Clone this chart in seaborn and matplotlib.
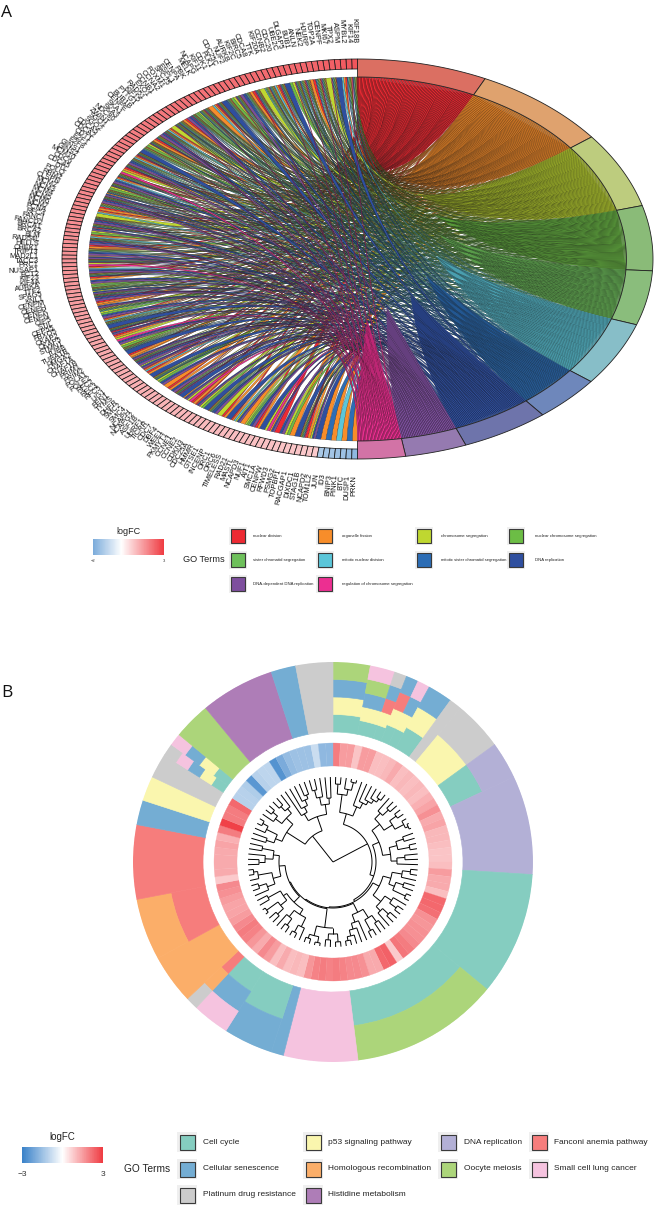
import numpy as np
import matplotlib
matplotlib.use("Agg")
import matplotlib.pyplot as plt
from matplotlib.colors import LinearSegmentedColormap
from matplotlib.path import Path
from matplotlib.patches import PathPatch, Rectangle
from matplotlib.collections import PatchCollection
import seaborn as sns

# ---------------- panel A data ----------------
go_terms_a = ["nuclear division", "organelle fission", "chromosome segregation",
              "nuclear chromosome segregation", "sister chromatid segregation",
              "mitotic nuclear division", "mitotic sister chromatid segregation",
              "DNA replication", "DNA-dependent DNA replication",
              "regulation of chromosome segregation"]
term_keys_a = "abcdefghij"
term_share_a = [25.6, 26.8, 22.1, 18.9, 15.8, 18.6, 13.4, 17.3, 12.1, 9.4]
term_fill_a = ["#ED2A33", "#F78D2A", "#BFD730", "#6CBD45", "#6EC05B",
               "#5BC6D9", "#2C6DB5", "#2F4F9F", "#7E4F9E", "#EC2F91"]
term_ring_a = ["#DB6F62", "#DFA26E", "#BDCC7E", "#8ABB78", "#8ABD7C",
               "#87BEC8", "#6E87BB", "#6E74AB", "#957AB0", "#D273A6"]

genes_a = ["KIF18B","KIF14","MYBL2","ASPM","TPX2","MKI67","CENPF","TOP2A","HJURP","NEK2",
 "ANLN","BUB1","DLGAP5","UBE2C","CDC20","CCNB2","KIF20A","TTK","CDCA8","BIRC5",
 "KIF2C","AURKB","NUF2","CDC25C","PLK1","CDK1","KIF11","NCAPG","MELK","PBK",
 "CENPA","ESPL1","SPC25","FOXM1","CCNA2","CCNB1","EXO1","RAD51","KIF15","PTTG1",
 "BUB1B","CENPE","SKA1","SKA3","NDC80","ZWINT","SGO1","SGO2","CDCA5","CDCA2",
 "CDT1","E2F1","E2F8","GINS1","GINS2","MCM10","CDC6","CDC45","DTL","POLQ",
 "RRM2","CLSPN","MCM2","MCM3","MCM4","MCM5","MCM6","MCM7","PCNA","RFC4",
 "FANCI","FANCD2","BRCA1","BRCA2","BLM","RAD54L","HELLS","CHEK1","TRIP13","MAD2L1",
 "TACC3","PRC1","NUSAP1","ECT2","KIF23","KIF4A","AURKA","TTF2","SPAG5","KNL1",
 "CENPM","CENPH","CENPK","CENPN","OIP5","STIL","CEP55","FBXO5","CKAP2","CKAP5",
 "STMN1","TUBB","TUBA1B","HMGA2","CHAF1A","CHAF1B","PRIM1","PRIM2","POLA1","POLE2",
 "RFC2","RFC3","RFC5","LIG1","FEN1","TYMS","DHFR","SMC2","SMC4","NCAPH",
 "NCAPG2","ASF1B","UHRF1","TICRR","CDC7","DBF4","WEE1","PKMYT1","CCNE1","CCNE2",
 "CDKN3","CDC25A","HMMR","GTSE1","INCENP","ORC1","ORC6","TIMELESS","RAD21","MASTL",
 "NCAPD3","NUF1","AIT1","SMC1A","CENPW","RFWD3","PSMG2","TOPBP1","RACGAP1","DIXDC1",
 "STAG1B","NCAPD2","TOM1L2","JUN","ID3","BNIP3","PINK1","BTC","DUSP1","PRKN"]

gene_terms_a = [
 "abcdefgj","abcdefg","abf","h","abcdefgj","c","abcdefgj","abcdefg","ab","abcdefgj",
 "abcdefg","abcdefgj","cd","h","abcdefgj","abf","abcdefg","abcdef","c","abcdefgj",
 "ab","abcdefg","hi","abcdefgj","cd","abcdefg","h","abcdefgj","abf","b",
 "abcdefgj","abcdefg","cde","abcdefgj","hi","ab","abcdefg","abcdefgj","c","abf",
 "abcdefgj","hi","abcdefg","ab","abcdefgj","cd","abcdef","h","abcdefgj","abf",
 "abcdefg","hi","abcdefgj","ab","cj","abcdefg","abf","hi","abcdefgj","cd",
 "abcdefg","bhi","abcdefgj","hi","abcdef","ab","abf","c","abcdefgj","hi",
 "abcdefg","ahi","cd","abf","abcdefgj","hi","ab","abcdef","hi","bhi",
 "abcdefgj","cj","abf","hi","abcdefg","ab","hi","cde","abcdefg","chi",
 "abcdefgj","hi","ab","bhi","abcdef","cd","hi","abf","abcdefg","h",
 "abcdefgj","ahi","ab","cj","hi","cd","abcdefg","h","ab","bhi",
 "abcdefgj","hi","chi","abf","ab","h","abcdefg","cd","hi","b",
 "ab","hi","abcdefgj","h","bhi","cj","ab","ahi","cd","h",
 "abcdefg","hi","c","ab","h","abf","chi","b","cde","hi",
 "ab","h","cj","bhi","a","hi","cd","b","h","abcdefgj",
 "ab","chi","h","b","g","b","f","b","g","b"]

logfc_a = [
 2.60,2.55,2.50,2.45,2.42,2.40,2.38,2.36,2.35,2.34,
 2.33,2.32,2.31,2.30,2.29,2.28,2.27,2.26,2.25,2.24,
 2.23,2.22,2.21,2.20,2.19,2.18,2.17,2.16,2.15,2.14,
 2.13,2.12,2.11,2.10,2.09,2.08,2.07,2.06,2.05,2.04,
 2.03,2.02,2.01,2.00,1.99,1.98,1.97,1.96,1.95,1.94,
 1.93,1.92,1.91,1.90,1.89,1.88,1.87,1.86,1.85,1.84,
 1.83,1.82,1.81,1.80,1.79,1.78,1.77,1.76,1.75,1.74,
 1.73,1.72,1.71,1.70,1.69,1.68,1.67,1.66,1.65,1.64,
 1.63,1.62,1.61,1.60,1.58,1.56,1.55,1.54,1.52,1.50,
 1.49,1.48,1.46,1.45,1.44,1.42,1.41,1.40,1.38,1.37,
 1.36,1.35,1.34,1.33,1.32,1.31,1.30,1.29,1.28,1.27,
 1.26,1.25,1.24,1.23,1.22,1.21,1.20,1.19,1.18,1.17,
 1.16,1.15,1.14,1.13,1.12,1.11,1.10,1.09,1.08,1.07,
 1.06,1.05,1.04,1.03,1.02,1.01,1.00,0.99,0.98,0.97,
 0.96,0.95,0.94,0.93,0.92,0.91,0.90,0.89,0.88,0.87,
 0.85,0.84,0.82,-1.3,-1.4,-1.4,-1.5,-1.5,-1.6,-1.7]

# ---------------- panel B data ----------------
go_terms_b = {"T": "Cell cycle", "B": "Cellular senescence", "G": "Platinum drug resistance",
              "Y": "p53 signaling pathway", "H": "Homologous recombination", "M": "Histidine metabolism",
              "L": "DNA replication", "O": "Oocyte meiosis", "F": "Fanconi anemia pathway",
              "P": "Small cell lung cancer"}
term_fill_b = {"T": "#85CDC0", "B": "#74ADD3", "G": "#CCCCCC", "Y": "#FAF6AE", "H": "#FBAE69",
               "M": "#AE7DB7", "L": "#B3B0D6", "O": "#ACD57A", "F": "#F67D7C", "P": "#F5C3DF"}
gene_run_counts_b = [3, 2, 1, 1, 1, 2, 1, 4, 3, 8, 10, 12, 6, 1, 4, 3, 1, 4, 5, 6, 2, 2, 2, 1, 1, 3, 6, 2, 3]
gene_run_terms_b = ["TYBO", "TYBOP", "TYFBG", "TYFB", "TYBP", "TYB", "G", "YG", "TL", "L", "T", "TO", "P",
                    "B", "TB", "TBP", "FHG", "H", "FH", "F", "B", "Y", "G", "TYBPG", "TYBP", "O", "M", "B", "G"]
logfc_b = [2.0,1.5,1.5,0.9,1.5,1.5,1.0,1.0,1.1,1.3,
 1.0,1.1,1.0,1.1,1.0,1.2,1.4,1.7,1.3,1.4,
 1.1,1.1,1.0,0.9,0.9,1.0,1.5,1.3,1.3,1.0,
 2.3,2.3,2.2,1.7,1.6,1.7,1.7,1.8,2.0,2.1,
 0.8,2.4,2.3,1.3,1.3,1.7,1.8,1.8,1.9,2.0,
 1.9,2.0,1.9,1.6,1.0,1.1,1.0,1.3,1.0,1.5,
 1.8,1.3,1.6,1.9,2.0,1.8,1.5,1.4,1.4,1.5,
 1.7,1.8,0.8,1.3,1.3,1.3,1.3,1.4,1.2,2.0,
 2.9,2.0,2.0,2.3,-1.1,-1.1,-1.2,-2.5,-1.1,-1.0,
 -1.0,-2.6,-2.0,-1.6,-1.5,-1.5,-1.5,-0.8,-1.7,-1.7]

# hierarchical tree: (merge radius, child, child); _ is a leaf, leaves run clockwise
_ = None
c1 = (50,(68,(78,_,_),(74,_,(82,_,_))),(60,_,(66,_,(70,_,(74,_,(78,_,_))))))
c2 = (50,(60,(68,_,(76,_,_)),(70,(78,_,_),(80,_,(83,_,_)))),(58,(66,(74,_,_),(78,_,_)),(64,(72,_,_),_)))
c3 = (52,(60,(70,(78,_,_),_),(66,(74,_,_),(80,_,_))),(62,(70,_,(78,_,_)),(68,(76,_,_),_)))
c3b = (56,(66,(74,_,_),(78,_,_)),(64,_,(70,_,(76,_,(80,_,_)))))
c4 = (66,(72,(80,_,_),(78,_,_)),(76,(82,_,_),(80,_,_)))
c5 = (56,(62,(72,_,(80,_,_)),(70,(78,_,_),_)),(60,(68,(76,_,_),(82,_,_)),(74,_,_)))
c6 = (54,(62,(70,_,(78,_,_)),(76,_,(80,_,_))),(60,(68,(74,_,_),_),(72,_,_)))
c7 = (55,(62,(70,_,_),(74,_,(80,_,_))),(64,(72,_,(78,_,_)),(70,(76,_,_),_)))
c8 = (48,(56,_,(62,_,(68,_,(72,_,_)))),(58,(66,(74,_,_),_),(64,_,_)))
tree_b = (0, (39, c1, (43, c2, (45, c3, (46, c3b, (47, c4, (48, c5, c6)))))), (33, c7, c8))

# ---------------- style ----------------
sns.set_theme(style="white")
plt.rcParams["font.family"] = ["Liberation Sans", "DejaVu Sans"]
W, H = 654, 1209
fig = plt.figure(figsize=(W / 100, H / 100), dpi=100, facecolor="white")
cmap = LinearSegmentedColormap.from_list("lfc", ["#3A82C9", "#FFFFFF", "#EF3B42"])
norm = plt.Normalize(-3, 3)
palette_a = sns.color_palette(term_fill_a)
palette_dark_a = [tuple(0.8 * c for c in col) for col in palette_a]


def rect(x, y, w, h):
    return [x / W, 1 - (y + h) / H, w / W, h / H]


# ---------------- panel A: chord diagram ----------------
cx, cy, rx, ry = 357.5, 259, 295.5, 200
ax = fig.add_axes(rect(0, 0, W, 515))
ax.set_xlim((0 - cx) / rx, (W - cx) / rx)
ax.set_ylim((cy - 515) / ry, cy / ry)
ax.axis("off")


def pt(t, r, side):
    return side * np.sin(np.radians(t)) * r, np.cos(np.radians(t)) * r


def ring(t0, t1, r0, r1, side):
    ts = np.linspace(t0, t1, 24)
    xo, yo = pt(ts, r1, side)
    xi, yi = pt(ts[::-1], r0, side)
    return np.r_[xo, xi], np.r_[yo, yi]


def fan_shade(t_start, t_end, reach):
    """The solid part of a term's fan: between the curves from both sector ends, meeting in a tip."""
    p2 = np.array(pt(0, R_CHORD, -1))
    p_a, p_b = np.array(pt(t_start, R_CHORD, 1)), np.array(pt(t_end, R_CHORD, 1))
    end_a = (1 - reach) ** 2 * p_a + reach ** 2 * p2
    end_b = (1 - reach) ** 2 * p_b + reach ** 2 * p2
    tip = (end_a + end_b) / 2
    verts = [p_a, p_a * (1 - reach), tip, p_b * (1 - reach), p_b, p_b]
    codes = [Path.MOVETO, Path.CURVE3, Path.CURVE3, Path.CURVE3, Path.CURVE3, Path.CLOSEPOLY]
    return Path(verts, codes)


R_CHORD, R_GENE0 = 0.91, 0.95
TEETH = 7          # slots on a term sweep down the gene list this many times
term_reach = [0.5, 0.5, 0.5, 0.46, 0.44, 0.42, 0.40, 0.37, 0.36, 0.33]
n_genes = len(genes_a)
dt_gene = 180 / n_genes
bounds = np.r_[0, np.cumsum(term_share_a)]

term_members = {k: [i for i, s in enumerate(gene_terms_a) if k in s] for k in term_keys_a}
patches = []
for ti, k in enumerate(term_keys_a):
    patches.append(PathPatch(fan_shade(bounds[ti], bounds[ti + 1], term_reach[ti]),
                             facecolor=palette_dark_a[ti], edgecolor="none", linewidth=0))
    members = term_members[k]
    w_term = term_share_a[ti] / len(members)
    slots = sorted(range(len(members)), key=lambda o: (o % TEETH, o))
    for slot, order in enumerate(slots):
        g = members[order]
        s = gene_terms_a[g]
        w_gene = dt_gene / len(s)
        j = s.index(k)
        g0, g1 = g * dt_gene + j * w_gene, g * dt_gene + (j + 1) * w_gene
        t0 = bounds[ti] + slot * w_term
        t1 = t0 + w_term
        verts = [pt(g0, R_CHORD, -1), (0, 0), pt(t0, R_CHORD, 1), pt(t1, R_CHORD, 1),
                 (0, 0), pt(g1, R_CHORD, -1), pt(g0, R_CHORD, -1)]
        codes = [Path.MOVETO, Path.CURVE3, Path.CURVE3, Path.LINETO,
                 Path.CURVE3, Path.CURVE3, Path.CLOSEPOLY]
        patches.append(PathPatch(Path(verts, codes), facecolor=palette_a[ti],
                                 edgecolor="#161616", linewidth=0.16))
ax.add_collection(PatchCollection(patches, match_original=True, zorder=2))

for ti in range(len(term_keys_a)):
    xs, ys = ring(bounds[ti], bounds[ti + 1], R_CHORD, 1.0, 1)
    ax.fill(xs, ys, facecolor=term_ring_a[ti], edgecolor="#222222", linewidth=0.6, zorder=3)

for g, name in enumerate(genes_a):
    xs, ys = ring(g * dt_gene, (g + 1) * dt_gene, R_GENE0, 1.0, -1)
    ax.fill(xs, ys, facecolor=cmap(norm(logfc_a[g])), edgecolor="#1a1a1a", linewidth=0.55, zorder=3)
    t = (g + 0.5) * dt_gene
    x, y = pt(t, 1.08, -1)
    ax.text(x, y, name, fontsize=5.4, color="#111111", rotation=t - 90, rotation_mode="anchor",
            ha="right", va="center", zorder=4)

# ---------------- panel B: circular cluster plot ----------------
bx, by, br = 333, 862, 200
pol = fig.add_axes(rect(bx - br, by - br, 2 * br, 2 * br), projection="polar")
pol.set_theta_zero_location("N")
pol.set_theta_direction(-1)
pol.set_ylim(0, br)
pol.axis("off")

n_b = sum(gene_run_counts_b)
dth = 2 * np.pi / n_b
R_T0, R_T1, R_H0, R_H1 = 130, 200, 96, 119
start = 0
for n, s in zip(gene_run_counts_b, gene_run_terms_b):
    h = (R_T1 - R_T0) / len(s)
    cols = [term_fill_b[k] for k in s]
    pol.bar([(start + n / 2) * dth] * len(s), h, width=n * dth,
            bottom=[R_T0 + j * h for j in range(len(s))], color=cols, edgecolor=cols, linewidth=0.45)
    start += n
heat = [cmap(norm(v)) for v in logfc_b]
pol.bar((np.arange(n_b) + 0.5) * dth, R_H1 - R_H0, width=dth, bottom=R_H0, color=heat,
        edgecolor=heat, linewidth=0.2, align="center")

R_LEAF = 85
leaf_counter = [0]


def draw(node):
    """Returns (theta, radius) of the node, drawing its branches on the polar axes."""
    if node is None:
        th = (leaf_counter[0] + 0.5) * dth
        leaf_counter[0] += 1
        return th, R_LEAF
    r, a, b = node
    th_a, r_a = draw(a)
    th_b, r_b = draw(b)
    arc = np.linspace(th_a, th_b, 40)
    kw = dict(color="black", lw=0.7, solid_capstyle="butt")
    if r > 0:
        pol.plot(arc, np.full_like(arc, r), **kw)
    pol.plot([th_a, th_a], [r, r_a], **kw)
    pol.plot([th_b, th_b], [r, r_b], **kw)
    return (th_a + th_b) / 2, r


draw(tree_b)
pol.set_ylim(0, br)

# ---------------- overlay: panel letters and legends ----------------
ov = fig.add_axes([0, 0, 1, 1], facecolor="none")
ov.set_xlim(0, W)
ov.set_ylim(H, 0)
ov.axis("off")
ov.text(1, 17, "A", fontsize=12.5, family=["Open Sans", "DejaVu Sans"], va="baseline", color="#111111")
ov.text(1, 697, "B", fontsize=12.5, family=["Open Sans", "DejaVu Sans"], va="baseline", color="#111111")


def colourbar(x, y, w, h, lo, hi):
    cax = fig.add_axes(rect(x, y, w, h))
    grad = np.linspace(lo, hi, 200)[None, :]
    sns.heatmap(grad, cmap=cmap, vmin=-3, vmax=3, cbar=False, xticklabels=False, yticklabels=False, ax=cax)


def swatch(x, y, colour, size_bg, size):
    ov.add_patch(Rectangle((x - size_bg / 2, y - size_bg / 2), size_bg, size_bg, facecolor="#EFEFEF", edgecolor="none"))
    ov.add_patch(Rectangle((x - size / 2, y - size / 2), size, size, facecolor=colour, edgecolor="#3a3a3a", linewidth=0.8))


# legend A
colourbar(93, 539, 71, 16, -2, 3)
ov.text(128, 531, "logFC", fontsize=6.5, ha="center", va="center", color="#222222")
ov.text(93, 561, "\u22122", fontsize=3, ha="center", va="center", color="#333333")
ov.text(164, 561, "3", fontsize=3, ha="center", va="center", color="#333333")
ov.text(183, 560, "GO Terms", fontsize=6.6, ha="left", va="center", color="#222222")
col_sw_a = [238, 325, 424, 516]
col_tx_a = [253, 342, 441, 535]
row_a = [536, 560, 584]
layout_a = [(0, 0), (1, 0), (2, 0), (3, 0), (0, 1), (1, 1), (2, 1), (3, 1), (0, 2), (1, 2)]
for (c, r), term, colour in zip(layout_a, go_terms_a, term_fill_a):
    swatch(col_sw_a[c], row_a[r], colour, 18, 13.5)
    ov.text(col_tx_a[c], row_a[r], term, fontsize=3.05, ha="left", va="center", color="#222222")

# legend B
colourbar(22, 1147, 81, 16, -3, 3)
ov.text(62, 1137, "logFC", fontsize=7, ha="center", va="center", color="#222222")
ov.text(22, 1174, "\u22123", fontsize=6, ha="center", va="center", color="#333333")
ov.text(103, 1174, "3", fontsize=6, ha="center", va="center", color="#333333")
ov.text(124, 1169, "GO Terms", fontsize=7.3, ha="left", va="center", color="#222222")
col_sw_b = [187, 313, 448, 539]
col_tx_b = [203, 328, 464, 554]
row_b = [1142, 1169, 1195]
layout_b = [("T", 0, 0), ("Y", 1, 0), ("L", 2, 0), ("F", 3, 0), ("B", 0, 1), ("H", 1, 1),
            ("O", 2, 1), ("P", 3, 1), ("G", 0, 2), ("M", 1, 2)]
for k, c, r in layout_b:
    swatch(col_sw_b[c], row_b[r], term_fill_b[k], 20, 15)
    ov.text(col_tx_b[c], row_b[r], go_terms_b[k], fontsize=6.0, ha="left", va="center", color="#222222")

fig.savefig("out.png", dpi=100, facecolor="white")
